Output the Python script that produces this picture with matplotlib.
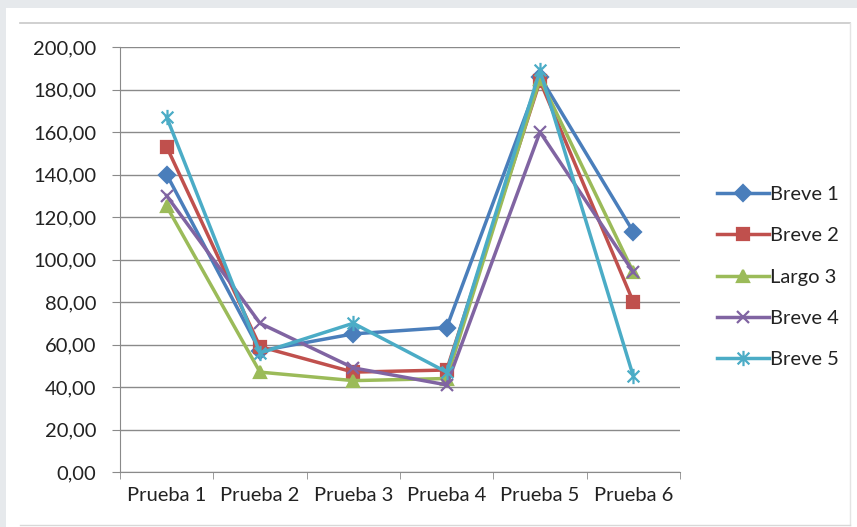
import numpy as np
import matplotlib
matplotlib.use('Agg')
import matplotlib.pyplot as plt
from matplotlib.path import Path
from matplotlib.lines import Line2D

## data
categories = ['Prueba 1', 'Prueba 2', 'Prueba 3', 'Prueba 4', 'Prueba 5', 'Prueba 6']
series_names = ['Breve 1', 'Breve 2', 'Largo 3', 'Breve 4', 'Breve 5']
breve_1 = [140, 57, 65, 68, 186, 113]
breve_2 = [153, 59, 47, 48, 184, 80]
largo_3 = [125, 47, 43, 44, 185, 94]
breve_4 = [130, 70, 49, 41, 160, 94]
breve_5 = [167, 56, 70, 47, 189, 45]
y_ticks = [0, 20, 40, 60, 80, 100, 120, 140, 160, 180, 200]

## styles
fs = 14.5
plt.rcParams['font.family'] = ['Lato', 'DejaVu Sans']
plt.rcParams['font.size'] = fs

star = Path([(-1, -1), (1, 1), (-1, 1), (1, -1), (0, -1.3), (0, 1.3)],
            [Path.MOVETO, Path.LINETO, Path.MOVETO, Path.LINETO, Path.MOVETO, Path.LINETO])

colors = ['#4a7ebb', '#c0504d', '#9bbb59', '#8064a2', '#4bacc6']
markers = ['D', 's', '^', 'x', star]
msizes = [8, 9, 9, 9, 11]
values = [breve_1, breve_2, largo_3, breve_4, breve_5]

fig = plt.figure(figsize=(8.57, 5.27), dpi=100)
fig.patch.set_facecolor('#e6e9ec')

# white panel and frame lines (pixel coords -> figure fraction)
W, H = 857.0, 527.0
fig.patches.append(plt.Rectangle((6 / W, 0), 1, 1 - 8 / H, transform=fig.transFigure,
                                 facecolor='white', edgecolor='none', zorder=-5))
frame_col = '#c8c8c8'
fig.add_artist(Line2D([20 / W, 850 / W], [1 - 23 / H, 1 - 23 / H], color=frame_col, lw=1.2, zorder=-4))
fig.add_artist(Line2D([850 / W, 850 / W], [1 - 23 / H, 1 - 525 / H], color='#e4e4e4', lw=1.0, zorder=-4))
fig.add_artist(Line2D([20 / W, 850 / W], [1 - 525 / H, 1 - 525 / H], color='#d8d8d8', lw=1.0, zorder=-4))

ax = fig.add_axes([120 / W, 1 - 472 / H, 560 / W, 425 / H])
ax.set_zorder(2)
ax.set_facecolor('none')

x = np.arange(len(categories))
for name, vals, col, mk, ms in zip(series_names, values, colors, markers, msizes):
    ax.plot(x, vals, color=col, lw=2.5, marker=mk, markersize=ms,
            markerfacecolor=col, markeredgecolor=col, markeredgewidth=1.6,
            label=name, zorder=3)

ax.set_xlim(-0.5, len(categories) - 0.5)
ax.set_ylim(0, 200)
ax.set_yticks(y_ticks)
ax.set_yticklabels(['%d,00' % v for v in y_ticks], color='#222222')
ax.yaxis.grid(True, color='#8a8a8a', lw=1.0)
ax.set_axisbelow(True)

ax.set_xticks(x)
ax.set_xticklabels(categories, color='#222222')
ax.tick_params(axis='x', length=0, pad=11)
ax.set_xticks(np.arange(-0.5, len(categories)), minor=True)
ax.tick_params(axis='x', which='minor', length=5, color='#8a8a8a', direction='out')
ax.tick_params(axis='y', length=6, color='#8a8a8a', direction='out', pad=11)

for s in ['top', 'right']:
    ax.spines[s].set_visible(False)
ax.spines['left'].set_color('#8a8a8a')
ax.spines['bottom'].set_color('#8a8a8a')

leg = ax.legend(loc='upper left', bbox_to_anchor=(699 / W, 1 - 168 / H),
                bbox_transform=fig.transFigure, frameon=False, handlelength=2.6,
                handletextpad=0.05, labelspacing=1.2, fontsize=fs)
for t in leg.get_texts():
    t.set_color('#222222')

fig.savefig('out.png', dpi=100, facecolor=fig.get_facecolor())
